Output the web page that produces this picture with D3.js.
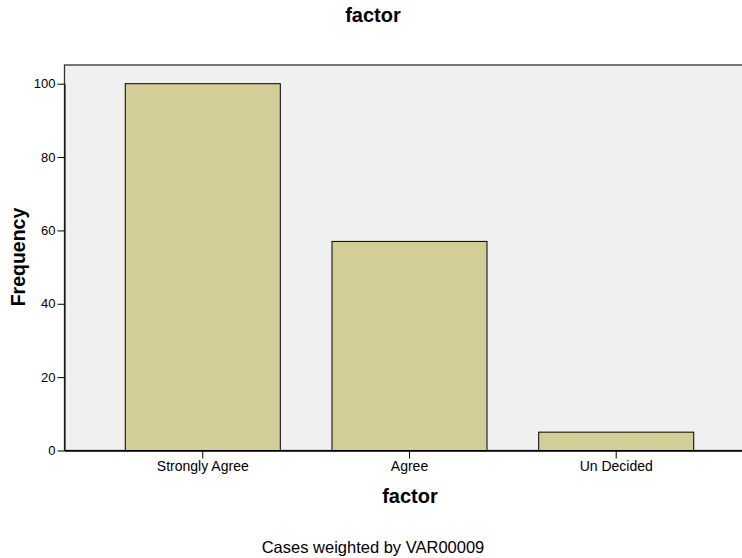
<!DOCTYPE html>
<html><head><meta charset="utf-8">
<script src="https://cdn.jsdelivr.net/npm/d3@7"></script>
<style>body{margin:0;background:#fff}svg{display:block;font-family:"Liberation Sans",Arial,sans-serif}</style>
</head><body><svg id="c" width="742" height="558"></svg>
<script>
const categories = ["Strongly Agree", "Agree", "Un Decided"];
const frequencies = [100, 57, 5];
const yTicks = [0, 20, 40, 60, 80, 100];

(function () {
const svg = d3.select("#c");
const pLeft = 64.5, pTop = 65, pBottom = 450.5, pRight = 754.5;
const x = d3.scaleBand().domain(categories).range([pLeft, pRight]).paddingInner(0.25).paddingOuter(0.294);
const y = d3.scaleLinear().domain([0, 100]).range([pBottom, 83.7]);

svg.append("rect").attr("x", pLeft).attr("y", pTop).attr("width", pRight - pLeft).attr("height", pBottom - pTop)
  .attr("fill", "#f0f0f0").attr("stroke", "#333").attr("stroke-width", 1.3);

svg.selectAll("rect.bar").data(categories).join("rect").attr("class", "bar")
  .attr("x", d => x(d)).attr("width", x.bandwidth())
  .attr("y", (d, i) => y(frequencies[i])).attr("height", (d, i) => y(0) - y(frequencies[i]))
  .attr("fill", "#d3ce98").attr("stroke", "#000").attr("stroke-width", 1);

const ya = svg.append("g").attr("transform", `translate(${pLeft},0)`)
  .call(d3.axisLeft(y).tickValues(yTicks).tickSize(7).tickSizeOuter(0).tickPadding(2));
ya.select(".domain").attr("stroke", "#000");
ya.selectAll("text").attr("font-size", 13).attr("fill", "#000").attr("font-family", "Liberation Sans, Arial, sans-serif");
ya.selectAll("line").attr("stroke", "#000");

const xa = svg.append("g").attr("transform", `translate(0,${pBottom})`)
  .call(d3.axisBottom(x).tickSize(8).tickSizeOuter(0).tickPadding(3));
xa.select(".domain").attr("stroke", "#000").attr("stroke-width", 1.3);
xa.selectAll("text").attr("font-size", 14).attr("fill", "#000").attr("font-family", "Liberation Sans, Arial, sans-serif");
xa.selectAll("line").attr("stroke", "#000");

svg.append("text").attr("x", 373).attr("y", 22).attr("text-anchor", "middle")
  .attr("font-size", 20).attr("font-weight", "bold").text("factor");
svg.append("text").attr("x", 410).attr("y", 503).attr("text-anchor", "middle")
  .attr("font-size", 20).attr("font-weight", "bold").text("factor");
svg.append("text").attr("transform", "translate(25,257) rotate(-90)").attr("text-anchor", "middle")
  .attr("font-size", 19.5).attr("font-weight", "bold").text("Frequency");
svg.append("text").attr("x", 373).attr("y", 553).attr("text-anchor", "middle")
  .attr("font-size", 16.5).text("Cases weighted by VAR00009");
})();
</script></body></html>
